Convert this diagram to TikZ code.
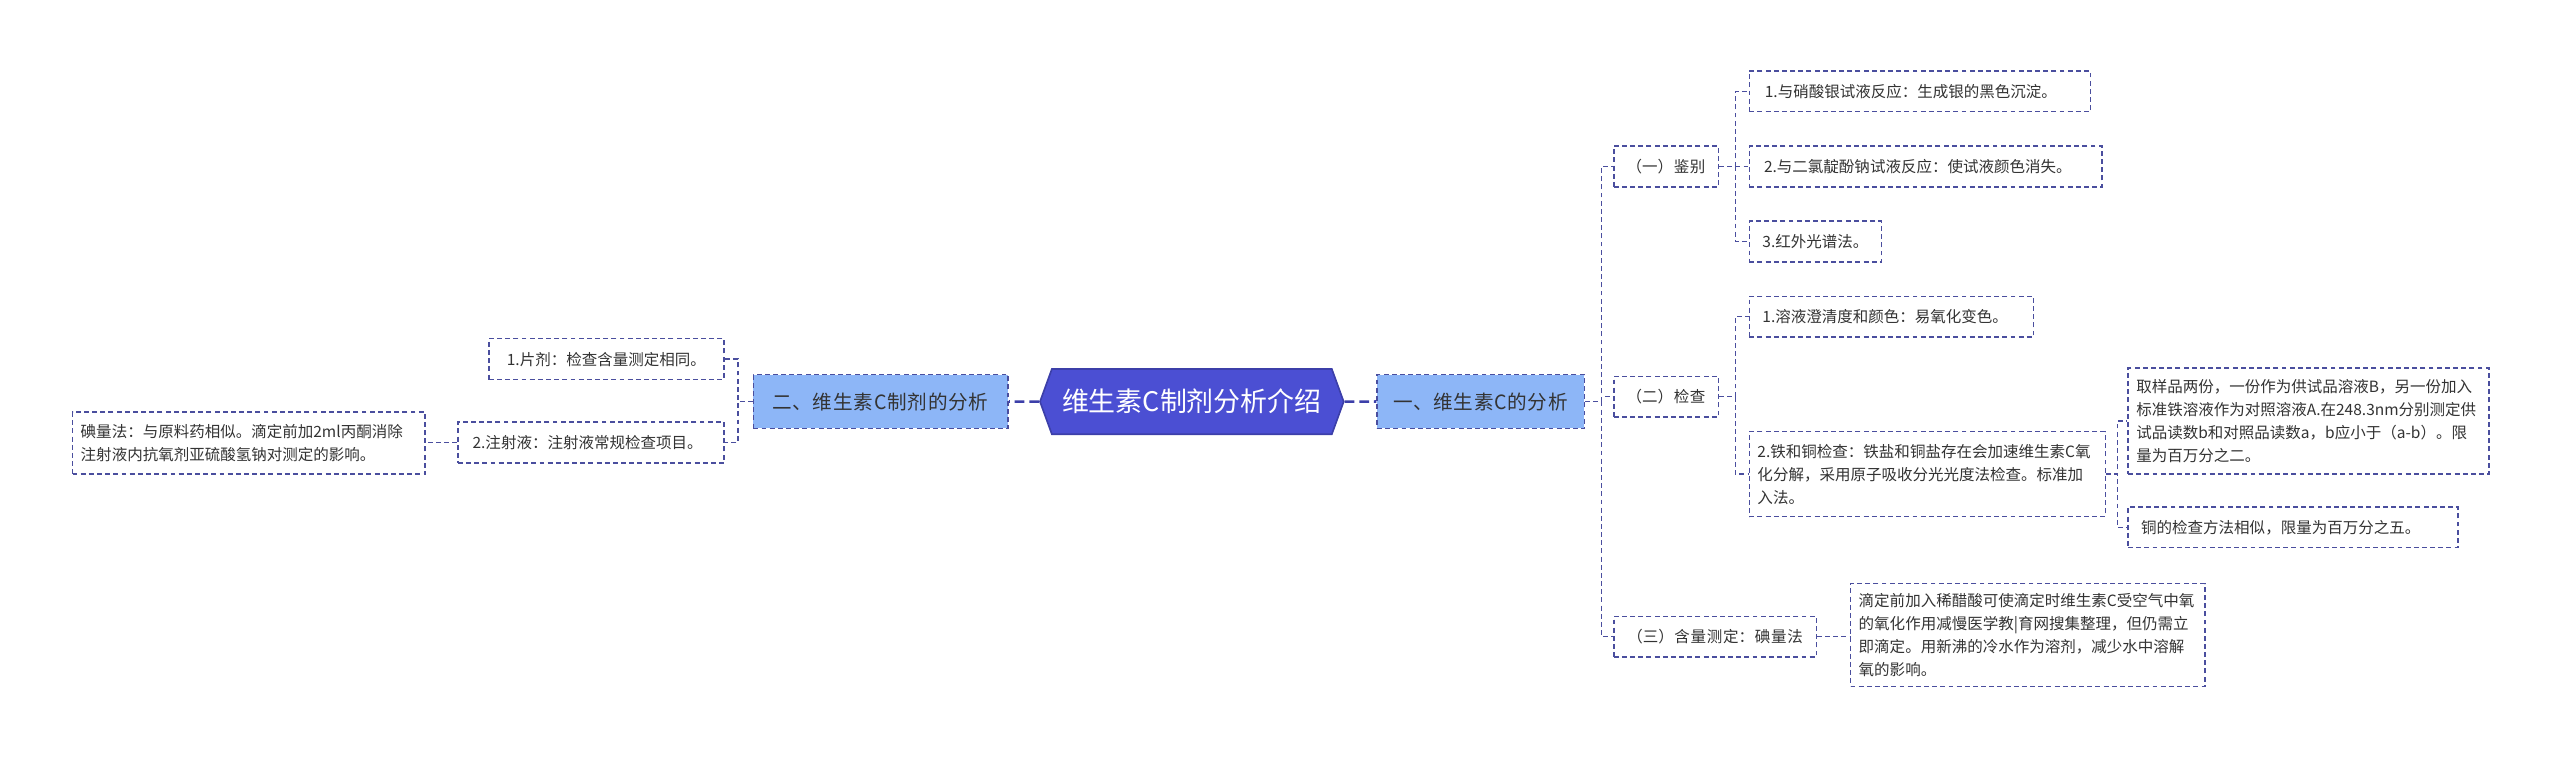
\documentclass[tikz,border=0pt]{standalone}
\usepackage{fontspec}
\setmainfont{Noto Sans CJK SC}
\XeTeXlinebreaklocale "zh"
\XeTeXlinebreakskip=0pt plus 1pt
\usetikzlibrary{shapes.symbols}
\definecolor{lc}{HTML}{4A4E9E}
\definecolor{rootc}{HTML}{4B4FD3}
\definecolor{l1c}{HTML}{8DB6F7}
\definecolor{tc}{HTML}{333333}
\newcommand{\mpar}[2]{\parbox{#1pt}{\raggedright\fontsize{9.5}{14}\selectfont #2}}
\begin{document}
\begin{tikzpicture}[x=1pt,y=-1pt,
  box/.style={draw=lc,dashed,line width=0.9pt,dash pattern=on 3pt off 2pt,fill=white,text=tc,font=\fontsize{9.5}{14}\selectfont,align=left,inner sep=0pt,anchor=north west},
  lone/.style={box,fill=l1c,font=\fontsize{12}{15}\selectfont,text=tc},
  conn/.style={draw=lc,line width=0.9pt,dash pattern=on 3pt off 2pt},
  mconn/.style={draw=rootc!80!black,line width=1.6pt,dash pattern=on 6pt off 3pt}]
\useasboundingbox (0,0) rectangle (1568,465);
% root
\node[signal,signal to=east and west,signal pointer angle=140,fill=rootc,draw=rootc!80!black,line width=1pt,text=white,font=\fontsize{16.5}{20}\selectfont,minimum width=186,minimum height=40,inner sep=0pt] (root) at (730,246) {维生素C制剂分析介绍};
% level 1
\node[lone,minimum width=127,minimum height=33,text width=127,align=center] (r1) at (843,229) {一、维生素C的分析};
\node[lone,minimum width=156,minimum height=33,text width=156,align=center] (l1) at (461,229) {二、维生素C制剂的分析};
% left children
\node[box,minimum width=144,minimum height=25,text width=136] (la) at (299,207) {\hspace*{7pt}1.片剂：检查含量测定相同。};
\node[box,minimum width=163,minimum height=25,text width=155] (lb) at (280,258) {\hspace*{5pt}2.注射液：注射液常规检查项目。};
\node[box,minimum width=216,minimum height=38] (lc1) at (44,252) {\mpar{206}{碘量法：与原料药相似。滴定前加2ml丙酮消除注射液内抗氧剂亚硫酸氢钠对测定的影响。}};
% level 2 right
\node[box,minimum width=64,minimum height=25,text width=64,align=center] (a) at (988,89) {（一）鉴别};
\node[box,minimum width=64,minimum height=25,text width=64,align=center] (b) at (988,230) {（二）检查};
\node[box,minimum width=124,minimum height=25,text width=124,align=center] (c) at (988,377) {（三）含量测定：碘量法};
% a children
\node[box,minimum width=209,minimum height=25,text width=200] (a1) at (1071,43) {\hspace*{5pt}1.与硝酸银试液反应：生成银的黑色沉淀。};
\node[box,minimum width=216,minimum height=25,text width=208] (a2) at (1071,89) {\hspace*{5pt}2.与二氯靛酚钠试液反应：使试液颜色消失。};
\node[box,minimum width=81,minimum height=25,text width=75] (a3) at (1071,135) {\hspace*{5pt}3.红外光谱法。};
% b children
\node[box,minimum width=174,minimum height=25,text width=168] (b1) at (1071,181) {\hspace*{5pt}1.溶液澄清度和颜色：易氧化变色。};
\node[box,minimum width=218,minimum height=52] (b2) at (1071,264) {\mpar{208}{2.铁和铜检查：铁盐和铜盐存在会加速维生素C氧化分解，采用原子吸收分光光度法检查。标准加入法。}};
\node[box,minimum width=221,minimum height=65] (b21) at (1303,225) {\mpar{211}{取样品两份，一份作为供试品溶液B，另一份加入标准铁溶液作为对照溶液A.在248.3nm分别测定供试品读数b和对照品读数a，b应小于（a-b）。限量为百万分之二。}};
\node[box,minimum width=202,minimum height=25,text width=196] (b22) at (1303,310) {\hspace*{5pt}铜的检查方法相似，限量为百万分之五。};
% c child
\node[box,minimum width=217,minimum height=63] (c1) at (1133,357) {\mpar{207}{滴定前加入稀醋酸可使滴定时维生素C受空气中氧的氧化作用减慢医学教|育网搜集整理，但仍需立即滴定。用新沸的冷水作为溶剂，减少水中溶解氧的影响。}};
% connectors
\draw[mconn] (root.east) -- (r1.west);
\draw[mconn] (root.west) -- (l1.west -| l1.east);
\foreach \n in {a,b,c} \draw[conn] (r1.east) -- ++(10,0) |- (\n.west);
\foreach \n in {a1,a2,a3} \draw[conn] (a.east) -- ++(10,0) |- (\n.west);
\foreach \n in {b1,b2} \draw[conn] (b.east) -- ++(10,0) |- (\n.west);
\foreach \n in {b21,b22} \draw[conn] (b2.east) -- ++(7,0) |- (\n.west);
\draw[conn] (c.east) -- (c1.west |- c.east);
\foreach \n in {la,lb} \draw[conn] (l1.west) -- ++(-9,0) |- (\n.east);
\draw[conn] (lb.west) -- (lc1.east |- lb.west);
\end{tikzpicture}
\end{document}
